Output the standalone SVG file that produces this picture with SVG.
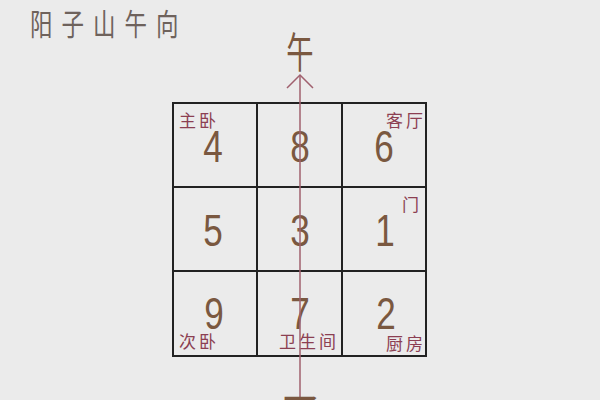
<svg xmlns="http://www.w3.org/2000/svg" width="600" height="400" viewBox="0 0 600 400">
<style>
.num{font-family:"Liberation Sans",Arial,sans-serif;font-size:45px;fill:#7a5840;text-anchor:middle}
.lbl{font-family:"Noto Sans CJK SC",sans-serif;font-size:17px;fill:#8c3f52;letter-spacing:3px}
.grid{fill:none;stroke:#222;stroke-width:2}
.axis{fill:none;stroke:#a0606e;stroke-width:1.5}
</style>
<rect width="600" height="400" fill="#ebebeb"/>
<text id="title" x="30" y="35" font-family="Noto Sans CJK SC,sans-serif" font-size="30" fill="#6e625c" letter-spacing="12" transform="translate(30,0) scale(0.75,1) translate(-30,0)">阳子山午向</text>
<g id="grid">
<rect class="grid" x="173" y="103" width="253" height="253"/>
<line class="grid" x1="257" y1="103" x2="257" y2="356"/>
<line class="grid" x1="342" y1="103" x2="342" y2="356"/>
<line class="grid" x1="173" y1="187" x2="426" y2="187"/>
<line class="grid" x1="173" y1="271" x2="426" y2="271"/>
</g>
<g id="cell-4"><text class="num" transform="translate(213,162) scale(0.78,1)">4</text><text class="lbl" x="179" y="127">主卧</text></g>
<g id="cell-8"><text class="num" transform="translate(300,162) scale(0.78,1)">8</text></g>
<g id="cell-6"><text class="num" transform="translate(384,162) scale(0.78,1)">6</text><text class="lbl" x="386" y="127">客厅</text></g>
<g id="cell-5"><text class="num" transform="translate(213,246) scale(0.78,1)">5</text></g>
<g id="cell-3"><text class="num" transform="translate(300,246) scale(0.78,1)">3</text></g>
<g id="cell-1"><text class="num" transform="translate(385,246) scale(0.78,1)">1</text><text class="lbl" x="402" y="211" font-size="15">门</text></g>
<g id="cell-9"><text class="num" transform="translate(214,329) scale(0.78,1)">9</text><text class="lbl" x="179" y="348">次卧</text></g>
<g id="cell-7"><text class="num" transform="translate(300,329) scale(0.78,1)">7</text><text class="lbl" x="279" y="348">卫生间</text></g>
<g id="cell-2"><text class="num" transform="translate(386,329) scale(0.78,1)">2</text><text class="lbl" x="386" y="350">厨房</text></g>
<g id="connectors">
<line class="axis" x1="300" y1="75" x2="300" y2="400"/>
<polyline class="axis" points="287,88 300,75 313,88"/>
</g>
<g id="south"><text x="300" y="68" font-family="Noto Sans CJK SC,sans-serif" font-size="42" fill="#7a5840" text-anchor="middle" transform="translate(300,0) scale(0.65,1) translate(-300,0)">午</text></g>
<g id="north"><text x="300" y="431" font-family="Noto Sans CJK SC,sans-serif" font-size="44" fill="#7a5840" text-anchor="middle">子</text></g>
</svg>
